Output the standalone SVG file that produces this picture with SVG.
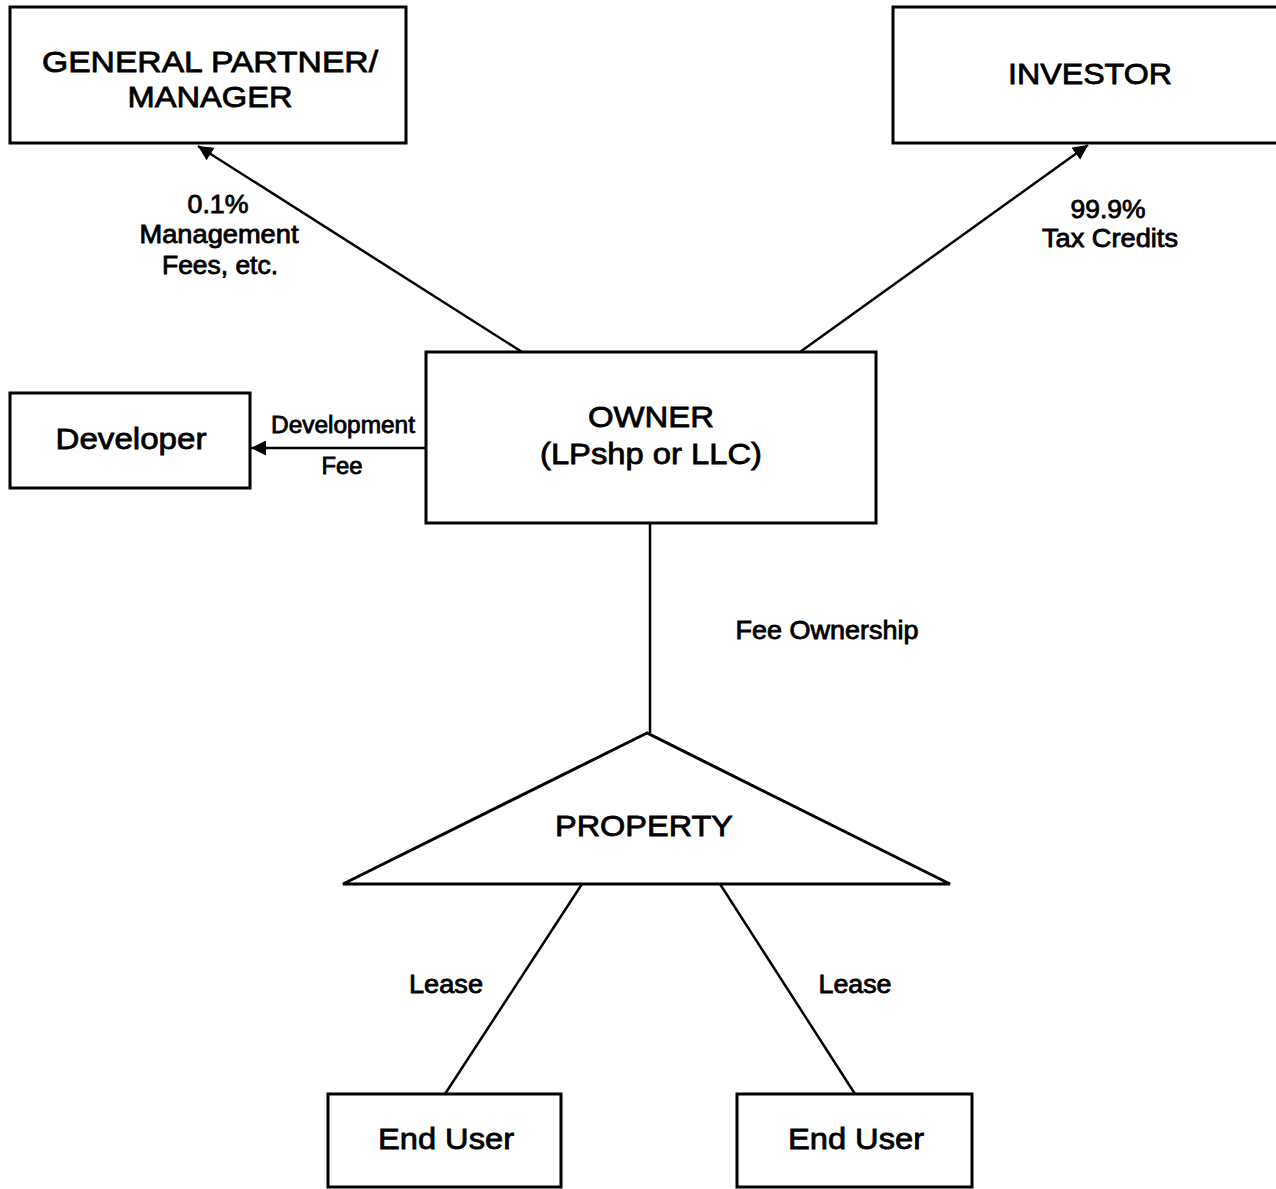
<svg xmlns="http://www.w3.org/2000/svg" width="1276" height="1189" viewBox="0 0 1276 1189">
<defs>
<style>
.box{fill:#fff;stroke:#000;stroke-width:3}
.ln{fill:none;stroke:#000;stroke-width:2.5}
text{font-family:"Liberation Sans",Arial,sans-serif;fill:#000;stroke:#000;stroke-width:0.8;text-anchor:middle}
.big{font-size:30px}
.sm{font-size:25px}
.xs{font-size:23px}
</style>
<marker id="ah" viewBox="0 0 10 10" refX="10" refY="5" markerWidth="6" markerHeight="6" orient="auto" markerUnits="strokeWidth">
<path d="M0,0 L10,5 L0,10 Z" fill="#000"/>
</marker>
</defs>
<rect width="1276" height="1189" fill="#fff"/>
<g id="connectors">
<line class="ln" x1="522" y1="352" x2="198" y2="146" marker-end="url(#ah)"/>
<line class="ln" x1="800" y1="352" x2="1088" y2="145" marker-end="url(#ah)"/>
<line class="ln" x1="426" y1="448" x2="251" y2="448" marker-end="url(#ah)"/>
<line class="ln" x1="650" y1="523" x2="650" y2="733"/>
<line class="ln" x1="582" y1="884" x2="445" y2="1094"/>
<line class="ln" x1="720" y1="884" x2="855" y2="1094"/>
<text class="sm" x="218" y="213" textLength="61" lengthAdjust="spacingAndGlyphs">0.1%</text>
<text class="sm" x="219" y="243" textLength="159" lengthAdjust="spacingAndGlyphs">Management</text>
<text class="sm" x="220" y="274" textLength="116" lengthAdjust="spacingAndGlyphs">Fees, etc.</text>
<text class="sm" x="1108" y="218" textLength="75" lengthAdjust="spacingAndGlyphs">99.9%</text>
<text class="sm" x="1110" y="247" textLength="136" lengthAdjust="spacingAndGlyphs">Tax Credits</text>
<text class="xs" x="343" y="433" textLength="144" lengthAdjust="spacingAndGlyphs">Development</text>
<text class="xs" x="342" y="474" textLength="41" lengthAdjust="spacingAndGlyphs">Fee</text>
<text class="sm" x="827" y="639" textLength="183" lengthAdjust="spacingAndGlyphs">Fee Ownership</text>
<text class="sm" x="446" y="993" textLength="74" lengthAdjust="spacingAndGlyphs">Lease</text>
<text class="sm" x="855" y="993" textLength="73" lengthAdjust="spacingAndGlyphs">Lease</text>
</g>
<g id="gp">
<rect class="box" x="10" y="7" width="396" height="136"/>
<text class="big" x="210" y="72" textLength="336" lengthAdjust="spacingAndGlyphs">GENERAL PARTNER/</text>
<text class="big" x="210" y="107" textLength="165" lengthAdjust="spacingAndGlyphs">MANAGER</text>
</g>
<g id="investor">
<rect class="box" x="893" y="7" width="390" height="136"/>
<text class="big" x="1090" y="84" textLength="164" lengthAdjust="spacingAndGlyphs">INVESTOR</text>
</g>
<g id="developer">
<rect class="box" x="10" y="393" width="240" height="95"/>
<text class="big" x="131" y="449" textLength="151" lengthAdjust="spacingAndGlyphs">Developer</text>
</g>
<g id="owner">
<rect class="box" x="426" y="352" width="450" height="171"/>
<text class="big" x="651" y="427" textLength="126" lengthAdjust="spacingAndGlyphs">OWNER</text>
<text class="big" x="651" y="464" textLength="222" lengthAdjust="spacingAndGlyphs">(LPshp or LLC)</text>
</g>
<g id="property">
<polygon class="box" points="647,733 343,884 950,884"/>
<text class="big" x="644" y="836" textLength="178" lengthAdjust="spacingAndGlyphs">PROPERTY</text>
</g>
<g id="enduser1">
<rect class="box" x="328" y="1094" width="233" height="93"/>
<text class="big" x="446" y="1149" textLength="136" lengthAdjust="spacingAndGlyphs">End User</text>
</g>
<g id="enduser2">
<rect class="box" x="737" y="1094" width="235" height="93"/>
<text class="big" x="856" y="1149" textLength="136" lengthAdjust="spacingAndGlyphs">End User</text>
</g>
</svg>
